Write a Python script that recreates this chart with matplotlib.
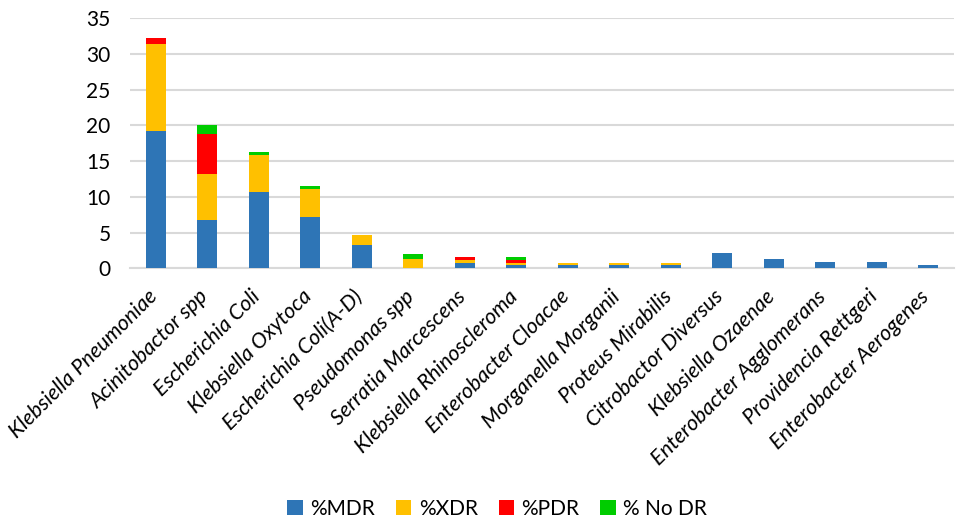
import matplotlib
matplotlib.use("Agg")
import matplotlib.pyplot as plt
import matplotlib.transforms as mtransforms
import numpy as np

categories = ["Klebsiella Pneumoniae", "Acinitobactor spp", "Escherichia Coli",
              "Klebsiella Oxytoca", "Escherichia Coli(A-D)", "Pseudomonas spp",
              "Serratia Marcescens", "Klebsiella Rhinoscleroma", "Enterobacter Cloacae",
              "Morganella Morganii", "Proteus Mirabilis", "Citrobactor Diversus",
              "Klebsiella Ozaenae", "Enterobacter Agglomerans", "Providencia Rettgeri",
              "Enterobacter Aerogenes"]
mdr = [19.2, 6.8, 10.6, 7.2, 3.3, 0.0, 0.8, 0.4, 0.4, 0.4, 0.4, 2.1, 1.25, 0.85, 0.85, 0.4]
xdr = [12.1, 6.4, 5.2, 3.9, 1.3, 1.25, 0.4, 0.4, 0.4, 0.4, 0.4, 0, 0, 0, 0, 0]
pdr = [0.85, 5.6, 0, 0, 0, 0, 0.4, 0.4, 0, 0, 0, 0, 0, 0, 0, 0]
nodr = [0, 1.25, 0.4, 0.4, 0, 0.8, 0, 0.4, 0, 0, 0, 0, 0, 0, 0, 0]
series_names = ["%MDR", "%XDR", "%PDR", "% No DR"]
colors = ["#2E75B6", "#FFC000", "#FF0000", "#00CC00"]
yticks = [0, 5, 10, 15, 20, 25, 30, 35]

plt.rcParams['font.family'] = ['Lato', 'DejaVu Sans']

fig = plt.figure(figsize=(9.58, 5.27), dpi=100)
ax = fig.add_axes([130/958, 1-268.3/527, (954-130)/958, (268.3-18)/527])

x = np.arange(len(categories))
bottom = np.zeros(len(categories))
for name, vals, c in zip(series_names, [mdr, xdr, pdr, nodr], colors):
    v = np.array(vals, dtype=float)
    ax.bar(x, v, bottom=bottom, width=0.39, color=c, label=name, zorder=3)
    bottom += v

ax.set_xlim(-0.5, len(categories) - 0.5)
ax.set_ylim(0, 35)
ax.set_yticks(yticks)
ax.set_yticklabels([str(t) for t in yticks], fontsize=15, color="#000000")
ax.yaxis.grid(True, color="#D9D9D9", linewidth=1.5, zorder=0)
ax.set_axisbelow(True)
for s in ["top", "right", "left"]:
    ax.spines[s].set_visible(False)
ax.spines["bottom"].set_color("#D9D9D9")
ax.spines["bottom"].set_linewidth(1.5)
ax.tick_params(axis="both", length=0)
ax.tick_params(axis="y", pad=14)
ax.set_xticks(x)
ax.set_xticklabels(categories, rotation=45, ha="right", rotation_mode="anchor",
                   fontsize=15.5, fontstyle="italic")
ax.tick_params(axis="x", pad=13)
offset = mtransforms.ScaledTranslation(-9/100, 0, fig.dpi_scale_trans)
for lbl in ax.get_xticklabels():
    lbl.set_transform(lbl.get_transform() + offset)

handles, labels = ax.get_legend_handles_labels()
fig.legend(handles, labels, loc="center", bbox_to_anchor=(0.519, 0.035), ncol=4,
           frameon=False, fontsize=15, handlelength=0.75, handleheight=0.75,
           columnspacing=1.0, handletextpad=0.35)

fig.savefig("out.png", dpi=100)
